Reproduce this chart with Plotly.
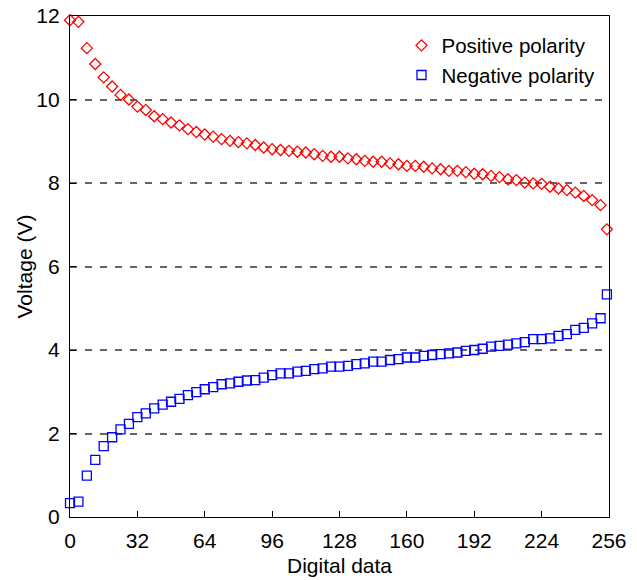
import plotly.graph_objects as go

x_vals = [0, 4, 8, 12, 16, 20, 24, 28, 32, 36, 40, 44, 48, 52, 56, 60, 64, 68, 72, 76,
          80, 84, 88, 92, 96, 100, 104, 108, 112, 116, 120, 124, 128, 132, 136, 140, 144,
          148, 152, 156, 160, 164, 168, 172, 176, 180, 184, 188, 192, 196, 200, 204, 208,
          212, 216, 220, 224, 228, 232, 236, 240, 244, 248, 252, 255]

positive = [11.90, 11.86, 11.23, 10.85, 10.53, 10.31, 10.11, 10.00, 9.83, 9.75, 9.60, 9.53,
            9.45, 9.38, 9.29, 9.22, 9.16, 9.11, 9.05, 9.01, 8.98, 8.95, 8.91, 8.85, 8.81,
            8.79, 8.77, 8.75, 8.73, 8.69, 8.65, 8.63, 8.63, 8.59, 8.57, 8.53, 8.51, 8.51,
            8.47, 8.45, 8.41, 8.41, 8.39, 8.35, 8.33, 8.29, 8.29, 8.26, 8.22, 8.21, 8.17,
            8.14, 8.09, 8.07, 8.01, 7.99, 7.98, 7.91, 7.87, 7.83, 7.77, 7.69, 7.59, 7.47, 6.89]

negative = [0.33, 0.37, 0.99, 1.37, 1.70, 1.91, 2.10, 2.23, 2.39, 2.48, 2.60, 2.69, 2.76,
            2.83, 2.92, 2.99, 3.06, 3.11, 3.18, 3.20, 3.24, 3.27, 3.28, 3.34, 3.40, 3.44,
            3.44, 3.48, 3.50, 3.54, 3.56, 3.60, 3.60, 3.62, 3.66, 3.68, 3.72, 3.72, 3.76,
            3.78, 3.82, 3.82, 3.86, 3.88, 3.90, 3.92, 3.94, 3.98, 4.00, 4.03, 4.08, 4.10,
            4.13, 4.16, 4.19, 4.26, 4.26, 4.28, 4.34, 4.38, 4.48, 4.53, 4.64, 4.76, 5.33]

x_ticks = [0, 32, 64, 96, 128, 160, 192, 224, 256]
y_ticks = [0, 2, 4, 6, 8, 10, 12]

FONT = "Liberation Sans, Arial, Helvetica, sans-serif"

fig = go.Figure()
fig.add_trace(go.Scatter(
    x=x_vals, y=positive, mode="markers", name="Positive polarity",
    marker=dict(symbol="diamond-open", size=8.5, color="#ff0000",
                line=dict(width=1.3, color="#ff0000")),
    cliponaxis=False,
))
fig.add_trace(go.Scatter(
    x=x_vals, y=negative, mode="markers", name="Negative polarity",
    marker=dict(symbol="square-open", size=9, color="#0000ff",
                line=dict(width=1.3, color="#0000ff")),
    cliponaxis=False,
))

fig.update_layout(
    width=637, height=580,
    margin=dict(l=70, r=28, t=16, b=63),
    paper_bgcolor="white", plot_bgcolor="white",
    font=dict(family=FONT, size=21, color="black"),
    legend=dict(x=0.615, y=0.981, xanchor="left", yanchor="top",
                bgcolor="rgba(0,0,0,0)", font=dict(size=20.5)),
    xaxis=dict(range=[0, 256], tickvals=x_ticks, ticks="inside", ticklen=6,
               tickcolor="black", showline=True, linecolor="black", linewidth=1.2,
               mirror=True, showgrid=False, zeroline=False, ticklabelstandoff=5,
               automargin=False,
               title=dict(text="Digital data", font=dict(size=21), standoff=7)),
    yaxis=dict(range=[0, 12], tickvals=y_ticks, ticks="inside", ticklen=6,
               tickcolor="black", showline=True, linecolor="black", linewidth=1.2,
               mirror=True, showgrid=True, gridcolor="#666666", gridwidth=1.5,
               griddash="7px,8px", zeroline=False, ticklabelstandoff=5,
               automargin=False),
    annotations=[dict(text="Voltage (V)", textangle=-90, xref="paper", yref="paper",
                      x=-0.0835, y=0.5, xanchor="center", yanchor="middle",
                      showarrow=False, font=dict(size=21))],
)

fig.write_html("out.html")
